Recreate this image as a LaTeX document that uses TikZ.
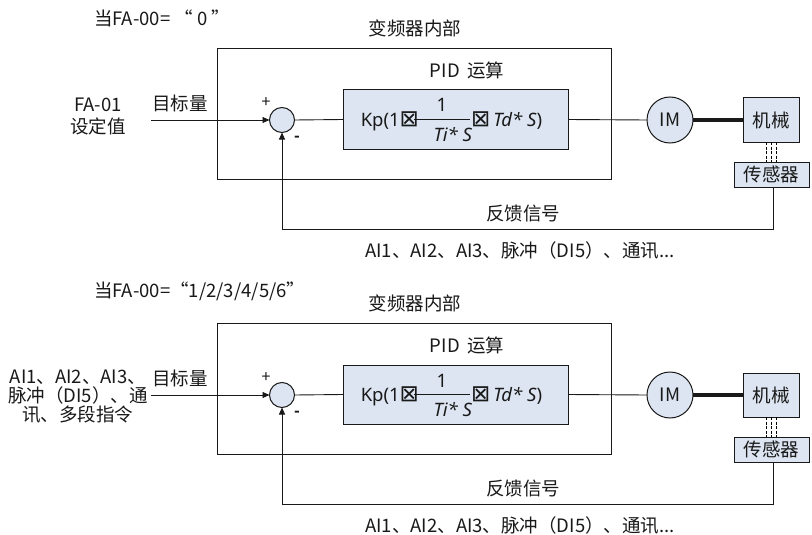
\documentclass[tikz,border=0pt]{standalone}
\usepackage{fontspec}
\setmainfont{Noto Sans CJK SC}[AutoFakeSlant=0.2]
\newfontfamily\symf{DejaVu Sans}
\newfontfamily\latf{Noto Sans}
\newcommand\xbox{{\symf\fontsize{23}{23}\selectfont ⊠}}
\usetikzlibrary{arrows.meta}
\definecolor{boxfill}{RGB}{220,229,241}
\definecolor{ink}{RGB}{25,25,25}
\begin{document}
\begin{tikzpicture}[x=1pt,y=-1pt,
  font=\fontsize{18.5}{19}\selectfont,
  every node/.style={inner sep=0pt,outer sep=0pt,text=ink},
  thin line/.style={draw=ink,line width=0.9pt},
  arr/.style={thin line,-{Triangle[length=7pt,width=6pt]}},
  fillbox/.style={draw=ink,line width=1pt,fill=boxfill,rectangle},
  ftxt/.style={font=\latf\fontsize{18.5}{19}\selectfont},
  lbl/.style={align=center}]
\useasboundingbox (0,0) rectangle (812,535);
\fill[white] (0,0) rectangle (812,535);

\node[anchor=west] (t1) at (94,18) {当FA-00= “ 0 ”};
\node[anchor=west] (t2) at (94,291) {当FA-00=“1/2/3/4/5/6”};

\foreach \p/\dy in {a/0,b/275}{
\begin{scope}[shift={(0,\dy)}, name prefix=\p-]
  \node (inner) at (415,28) {变频器内部};
  \node[draw=ink,line width=0.9pt,minimum width=394pt,minimum height=131pt] (frame) at (414,113.5) {};
  \node (pidt) at (467,70) {PID\, 运算};
  \node[fillbox,minimum width=225pt,minimum height=59pt] (pid) at (455.5,119.5) {};
  \node[ftxt,anchor=base east] (f1) at (419,126) {Kp(1\xbox};
  \node[ftxt,anchor=base] (f2) at (442,112) {1};
  \draw[thin line] (414,119) -- (470,119);
  \node[ftxt,anchor=base east] (f3) at (472,141) {\itshape Ti* S};
  \node[ftxt,anchor=base west] (f4) at (471,126) {\xbox\,\itshape Td* S\/\upshape)};
  \node[fillbox,circle,minimum size=25pt] (sum) at (282,120) {};
  \node[fillbox,circle,minimum size=46pt] (im) at (670,120) {IM};
  \node[fillbox,minimum width=56pt,minimum height=44pt] (mech) at (771,120) {机械};
  \node[fillbox,minimum width=75pt,minimum height=25pt] (sens) at (771.5,174.5) {传感器};
  \node (plus) at (266,103) {\fontsize{16}{16}\selectfont +};
  \node (minus) at (297,139) {\fontsize{15}{15}\selectfont\bfseries -};
  \node (goal) at (180,103) {目标量};
  \node (fbt) at (523,213) {反馈信号};
  \node (src) at (520,250) {AI1、AI2、AI3、脉冲（DI5）、通讯...};
  \coordinate (in) at (151,120);
  \coordinate (fb) at (282,229);
  \draw[arr] (in) -- (sum.west);
  \draw[thin line] (sum.east) -- (pid.west);
  \draw[thin line] (pid.east) -- (im.west);
  \draw[draw=ink,line width=4pt] (im.east) -- (mech.west);
  \foreach \dx in {-4.5,0.5,5.5}
    \draw[draw=black,line width=1.8pt,dash pattern=on 3pt off 1.5pt] ([xshift=\dx pt]mech.south) -- ([xshift=\dx pt]mech.south |- sens.north);
  \draw[arr] ([xshift=1.5pt]sens.south) |- (fb) -- (sum.south);
\end{scope}
}

\node[lbl] (set1) at (98,116) {FA-01\\[3pt]设定值};
\node[lbl] (set2) at (78,397) {AI1、AI2、AI3、\\脉冲（DI5）、通\\讯、多段指令};
\end{tikzpicture}
\end{document}
